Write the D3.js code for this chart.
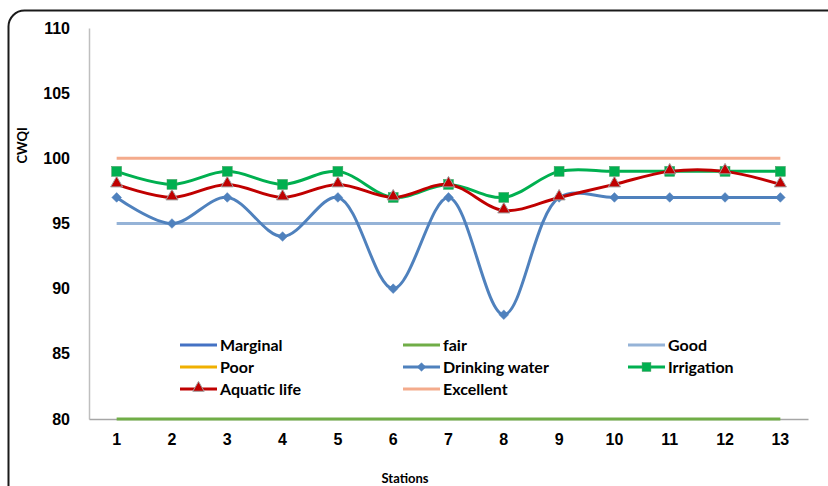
<!DOCTYPE html>
<html>
<head>
<meta charset="utf-8">
<script src="https://cdn.jsdelivr.net/npm/d3@7/dist/d3.min.js"></script>
<style>
  html, body { margin: 0; padding: 0; background: #fff; }
  svg { display: block; font-family: Lato, "Open Sans", sans-serif; }
</style>
</head>
<body>
<svg id="chart" width="828" height="486"></svg>
<script>
// Stations along the x axis
const stations = ["1","2","3","4","5","6","7","8","9","10","11","12","13"];
const yTicks = [80, 85, 90, 95, 100, 105, 110];

// Index class thresholds (constant reference lines)
const marginal = [65,65,65,65,65,65,65,65,65,65,65,65,65];
const fair     = [80,80,80,80,80,80,80,80,80,80,80,80,80];
const good     = [95,95,95,95,95,95,95,95,95,95,95,95,95];
const poor     = [45,45,45,45,45,45,45,45,45,45,45,45,45];
const excellent = [100,100,100,100,100,100,100,100,100,100,100,100,100];

// CWQI per station for each use
const drinkingWater = [97,95,97,94,97,90,97,88,97,97,97,97,97];
const irrigation    = [99,98,99,98,99,97,98,97,99,99,99,99,99];
const aquaticLife   = [98,97,98,97,98,97,98,96,97,98,99,99,98];

const series = [
  { name: "Marginal",       values: marginal,      color: "#4472C4", marker: null },
  { name: "fair",           values: fair,          color: "#70AD47", marker: null },
  { name: "Good",           values: good,          color: "#95B3D7", marker: null },
  { name: "Poor",           values: poor,          color: "#F0B000", marker: null },
  { name: "Drinking water", values: drinkingWater, color: "#4F81BD", marker: "diamond" },
  { name: "Irrigation",     values: irrigation,    color: "#00B050", marker: "square" },
  { name: "Aquatic life",   values: aquaticLife,   color: "#C00000", marker: "triangle" },
  { name: "Excellent",      values: excellent,     color: "#F4AB8C", marker: null }
];

const svg = d3.select("#chart");
const plot = { left: 89, right: 808, top: 28, bottom: 419 };

// Rounded outer frame
svg.append("rect")
  .attr("x", 8.5).attr("y", 10.5)
  .attr("width", 840).attr("height", 500)
  .attr("rx", 16).attr("ry", 16)
  .attr("fill", "none").attr("stroke", "#1a1a1a").attr("stroke-width", 2);

const x = d3.scaleBand().domain(stations).range([plot.left, plot.right]);
const y = d3.scaleLinear().domain([80, 110]).range([plot.bottom, plot.top]);
const cx = s => x(s) + x.bandwidth() / 2;

svg.append("defs").append("clipPath").attr("id", "plotClip")
  .append("rect")
  .attr("x", plot.left).attr("y", plot.top - 10)
  .attr("width", plot.right - plot.left).attr("height", plot.bottom - plot.top + 12);

// Axes
const yAxis = svg.append("g").attr("transform", `translate(${plot.left},0)`)
  .call(d3.axisLeft(y).tickValues(yTicks).tickSize(0).tickPadding(19));
yAxis.select(".domain").attr("stroke", "#bfbfbf").attr("stroke-width", 1.5);
yAxis.selectAll("text").attr("font-size", 16).attr("font-weight", "bold").attr("fill", "#000");

const xAxis = svg.append("g").attr("transform", `translate(0,${plot.bottom})`)
  .call(d3.axisBottom(x).tickSize(0).tickPadding(15));
xAxis.select(".domain").attr("stroke", "#a6a6a6").attr("stroke-width", 1.5);
xAxis.selectAll("text").attr("font-size", 16).attr("font-weight", "bold").attr("fill", "#000");

// Axis titles
svg.append("text")
  .attr("transform", `translate(27,${(y(101))}) rotate(-90)`)
  .attr("text-anchor", "middle")
  .attr("font-size", 13).attr("font-weight", "bold")
  .text("CWQI");
svg.append("text")
  .attr("x", 405).attr("y", 483)
  .attr("text-anchor", "middle")
  .attr("font-size", 13).attr("font-weight", "bold")
  .text("Stations");

// Series lines (smoothed)
const line = d3.line()
  .x((d, i) => cx(stations[i]))
  .y(d => y(d))
  .curve(d3.curveCatmullRom.alpha(0.5));

const g = svg.append("g").attr("clip-path", "url(#plotClip)");

const drawOrder = ["Marginal", "Poor", "Excellent", "Good", "fair", "Drinking water", "Irrigation", "Aquatic life"];

function drawMarker(sel, type, color, size) {
  if (type === "diamond") {
    sel.append("rect")
      .attr("x", -size * 0.38).attr("y", -size * 0.38)
      .attr("width", size * 0.76).attr("height", size * 0.76)
      .attr("transform", "rotate(45)")
      .attr("fill", color).attr("stroke", color).attr("stroke-width", 0.5);
  } else if (type === "square") {
    sel.append("rect")
      .attr("x", -size * 0.55).attr("y", -size * 0.55)
      .attr("width", size * 1.1).attr("height", size * 1.1)
      .attr("fill", color).attr("stroke", "#3d9a5a").attr("stroke-width", 0.5);
  } else if (type === "triangle") {
    sel.append("path").attr("d", d3.symbol(d3.symbolTriangle, size * 7)())
      .attr("fill", color).attr("stroke", "#a0a0a0").attr("stroke-width", 1)
      .attr("transform", "translate(0,-1)");
  }
}

drawOrder.forEach(name => {
  const s = series.find(d => d.name === name);
  g.append("path")
    .datum(s.values)
    .attr("fill", "none")
    .attr("stroke", s.color)
    .attr("stroke-width", 3)
    .attr("d", line);
  if (s.marker) {
    s.values.forEach((v, i) => {
      const m = g.append("g").attr("transform", `translate(${cx(stations[i])},${y(v)})`);
      drawMarker(m, s.marker, s.color, 9);
    });
  }
});

// Legend: three columns, row-major
const legCols = [180, 403, 628];
const legRows = [345, 367, 389];
series.forEach((s, k) => {
  const col = k % 3, row = Math.floor(k / 3);
  const lg = svg.append("g").attr("transform", `translate(${legCols[col]},${legRows[row]})`);
  lg.append("line").attr("x1", 0).attr("x2", 37).attr("y1", 0).attr("y2", 0)
    .attr("stroke", s.color).attr("stroke-width", 3);
  if (s.marker) {
    const m = lg.append("g").attr("transform", "translate(18.5,0)");
    drawMarker(m, s.marker, s.color, 8);
  }
  lg.append("text").attr("x", 40).attr("y", 6)
    .attr("font-size", 16).attr("font-weight", "bold")
    .text(s.name);
});
</script>
</body>
</html>
